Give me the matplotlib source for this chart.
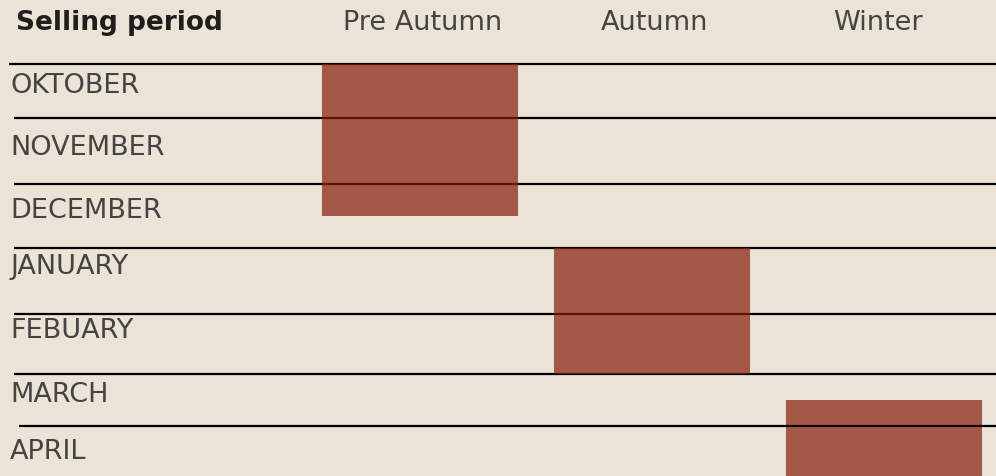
import numpy as np
import matplotlib
matplotlib.use("Agg")
import matplotlib.pyplot as plt
from matplotlib.transforms import blended_transform_factory

# ---- data ----
months = ["OKTOBER", "NOVEMBER", "DECEMBER", "JANUARY", "FEBUARY", "MARCH", "APRIL"]
periods = ["Pre Autumn", "Autumn", "Winter"]
period_start = [0.0, 3.0, 5.5]   # in month units (0 = start of October)
period_end = [2.5, 5.0, 7.0]
corner_label = "Selling period"

# ---- layout ----
W, H = 996, 477
BG = "#EBE3D5"
BAR = "#861D0B"
edges_px = np.array([65, 119, 185, 249, 315, 375, 427, 477], float)
edges_idx = np.arange(len(edges_px), dtype=float)
line_start_px = [9, 14, 14, 14, 14, 14, 19]
label_px_y = [86, 148, 211, 267, 331, 395, 452]

fig = plt.figure(figsize=(W / 100, H / 100), dpi=100, facecolor=BG)
ax = fig.add_axes([0, 0, 1, (H - edges_px[0]) / H])
ax.set_facecolor(BG)

def fwd(m):
    return -np.interp(m, edges_idx, edges_px)

def inv(p):
    return np.interp(-p, edges_px, edges_idx)

ax.set_yscale("function", functions=(fwd, inv))
ax.set_ylim(0, len(months))
col0, colstep = 420.0, 232.0
ax.set_xlim(-col0 / colstep, (W - col0) / colstep)
ax.axis("off")

# horizontal rule lines
ytr = ax.get_yaxis_transform()
for i in range(len(months)):
    ax.plot([line_start_px[i] / W, 1.0], [i, i], transform=ytr, color="black",
            lw=1.6, solid_capstyle="butt", clip_on=False,
            zorder=3 if i == len(months) - 1 else 1)

# bars
x = np.arange(len(periods))
heights = np.array(period_end) - np.array(period_start)
ax.bar(x, heights, bottom=period_start, width=196 / colstep, color=BAR,
       alpha=0.7, linewidth=0, zorder=2)

fam = ["DejaVu Sans"]
# month labels
for lab, py in zip(months, label_px_y):
    fig.text(10 / W, 1 - py / H, lab, ha="left", va="center", fontsize=19.5,
             family=fam, fontweight="normal", color="#444444")

# headers
htr = blended_transform_factory(ax.transData, fig.transFigure)
hdr_dx = [3 / colstep, 2 / colstep, -6 / colstep]
for i, p in enumerate(periods):
    ax.text(i + hdr_dx[i], 1 - 23 / H, p, transform=htr, ha="center", va="center",
            fontsize=19.5, family=fam, fontweight="normal", color="#444444")
fig.text(16 / W, 1 - 23 / H, corner_label, ha="left", va="center", fontsize=19,
         family=fam, fontweight="bold", color="#1e1e1e")

fig.savefig("out.png", dpi=100, facecolor=BG)
